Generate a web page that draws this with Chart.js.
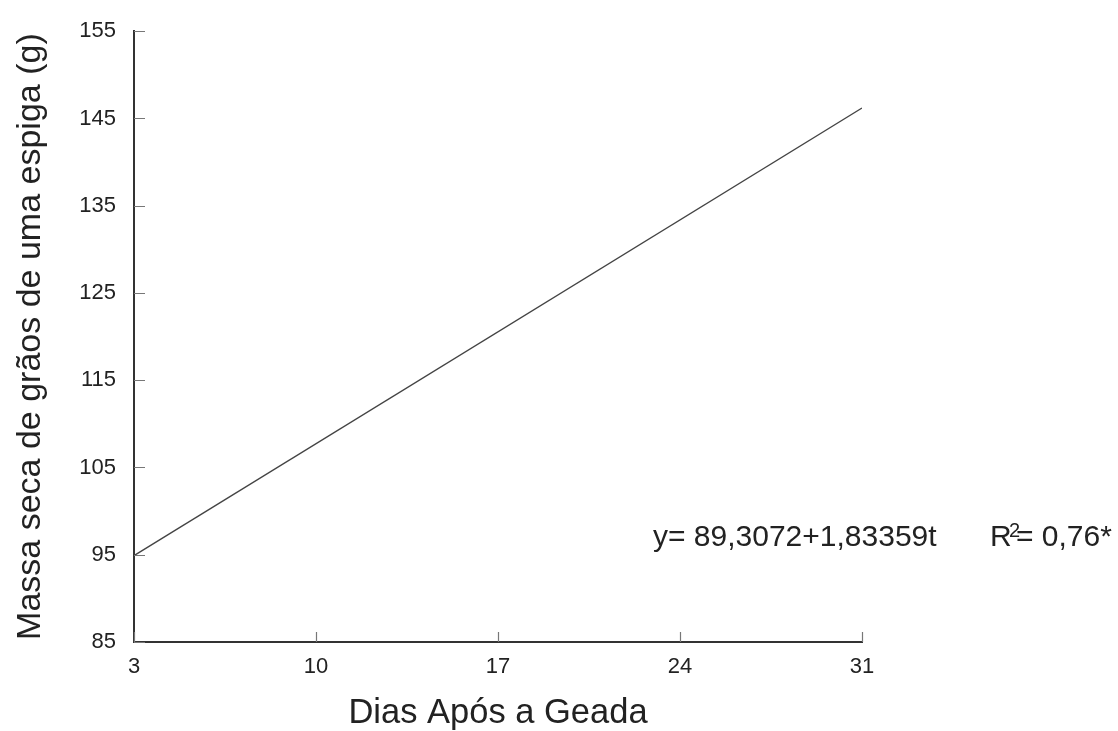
<!DOCTYPE html>
<html>
<head>
<meta charset="utf-8">
<script src="https://cdn.jsdelivr.net/npm/chart.js@4/dist/chart.umd.min.js"></script>
<style>
  html, body { margin: 0; padding: 0; background: #fff; }
  #wrap { width: 1118px; height: 731px; }
</style>
</head>
<body>
<div id="wrap"><canvas id="chart"></canvas></div>
<script>
// --- Data ---
const days = [3, 31];
const massa = [94.9, 146.2];
const xTicks = [3, 10, 17, 24, 31];
const yTicks = [85, 95, 105, 115, 125, 135, 145, 155];

const FONT = "'Liberation Sans', Arial, Helvetica, sans-serif";

// inward tick marks + regression text
const extras = {
  id: "extras",
  afterDraw(chart) {
    const { ctx, scales: { x, y }, chartArea } = chart;
    ctx.save();
    ctx.strokeStyle = "#777";
    ctx.lineWidth = 1.2;
    ctx.beginPath();
    y.ticks.forEach((t) => {
      const py = Math.round(y.getPixelForValue(t.value)) + 0.5;
      ctx.moveTo(chartArea.left, py);
      ctx.lineTo(chartArea.left + 11, py);
    });
    x.ticks.forEach((t) => {
      const px = Math.round(x.getPixelForValue(t.value)) + 0.5;
      ctx.moveTo(px, chartArea.bottom);
      ctx.lineTo(px, chartArea.bottom - 10);
    });
    ctx.stroke();

    // equation
    ctx.fillStyle = "#222";
    ctx.textBaseline = "alphabetic";
    ctx.font = "30px " + FONT;
    ctx.fillText("y= 89,3072+1,83359t", 653, 546);
    ctx.fillText("R", 990, 546);
    ctx.fillText("= 0,76*", 1016, 546);
    ctx.font = "20px " + FONT;
    ctx.fillText("2", 1009, 537);
    ctx.restore();
  },
};

new Chart(document.getElementById("chart"), {
  type: "scatter",
  data: {
    datasets: [
      {
        data: days.map((d, i) => ({ x: d, y: massa[i] })),
        showLine: true,
        borderColor: "#444",
        borderWidth: 1.3,
        pointRadius: 0,
        fill: false,
      },
    ],
  },
  options: {
    responsive: true,
    maintainAspectRatio: false,
    animation: false,
    layout: { padding: { top: 26, right: 256, left: 0, bottom: 0 } },
    plugins: { legend: { display: false }, tooltip: { enabled: false } },
    scales: {
      x: {
        type: "linear",
        min: 3,
        max: 31,
        afterBuildTicks: (s) => { s.ticks = xTicks.map((v) => ({ value: v })); },
        afterFit: (s) => { s.height = 89; },
        grid: { display: false, drawTicks: false },
        border: { display: true, color: "#333", width: 2 },
        ticks: {
          padding: 12,
          color: "#222",
          font: { family: FONT, size: 22 },
          maxRotation: 0,
        },
        title: {
          display: true,
          text: "Dias Após a Geada",
          color: "#222",
          font: { family: FONT, size: 34.5, lineHeight: 1 },
          padding: { top: 0, bottom: 0 },
        },
      },
      y: {
        min: 85,
        max: 155,
        afterBuildTicks: (s) => { s.ticks = yTicks.map((v) => ({ value: v })); },
        afterFit: (s) => { s.width = 134; },
        grid: { display: false, drawTicks: false },
        border: { display: true, color: "#333", width: 2 },
        ticks: {
          padding: 18,
          color: "#222",
          font: { family: FONT, size: 22 },
        },
        title: {
          display: true,
          text: "Massa seca de grãos de uma espiga (g)",
          color: "#222",
          font: { family: FONT, size: 34, lineHeight: 1.2 },
          padding: { top: 10, bottom: 0 },
        },
      },
    },
  },
  plugins: [extras],
});
</script>
</body>
</html>
